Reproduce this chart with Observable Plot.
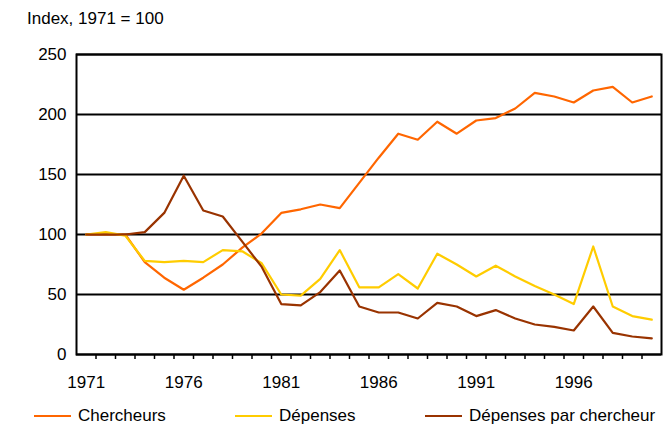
<!DOCTYPE html>
<html>
<head>
<meta charset="utf-8">
<script src="https://cdn.jsdelivr.net/npm/d3@7"></script>
<script src="https://cdn.jsdelivr.net/npm/@observablehq/plot@0.6"></script>
<style>
  html, body { margin: 0; padding: 0; background: #fff; }
  #wrap { position: relative; width: 663px; height: 426px; font-family: "Liberation Sans", Arial, sans-serif; color: #000; overflow: hidden; }
  #title { position: absolute; left: 27px; top: 9px; font-size: 17px; white-space: nowrap; }
  #chart { position: absolute; left: 0; top: 36px; }
  #ylabel { position: absolute; left: 16px; top: 200px; font-size: 17px; white-space: nowrap; transform: translate(-50%, -50%) rotate(-90deg); }
  .leg { position: absolute; top: 406px; font-size: 17px; white-space: nowrap; display: flex; align-items: center; }
  .leg span.sw { display: inline-block; width: 37px; height: 2.5px; margin-right: 7px; }
</style>
</head>
<body>
<div id="wrap">
  <div id="title">Index, 1971 = 100</div>
  <div id="ylabel">pourcentage</div>
  <div id="chart"></div>
  <div id="legend"></div>
</div>
<script>
const years = [1971,1972,1973,1974,1975,1976,1977,1978,1979,1980,1981,1982,1983,1984,1985,1986,1987,1988,1989,1990,1991,1992,1993,1994,1995,1996,1997,1998,1999,2000];
const chercheurs = [100,100,100,77,64,54,64,75,89,101,118,121,125,122,143,164,184,179,194,184,195,197,205,218,215,210,220,223,210,215];
const depenses = [100,102,99,78,77,78,77,87,86,76,50,49,63,87,56,56,67,55,84,75,65,74,65,57,50,42,90,40,32,29];
const depensesParChercheur = [100,100,100,102,118,149,120,115,94,73,42,41,52,70,40,35,35,30,43,40,32,37,30,25,23,20,40,18,15,13.5];
const seriesNames = ["Chercheurs", "Dépenses", "Dépenses par chercheur"];
const seriesColors = ["#ff6600", "#ffcc00", "#993300"];
const yTicks = [0, 50, 100, 150, 200, 250];
const labelYears = [1971, 1976, 1981, 1986, 1991, 1996];

const seriesValues = [chercheurs, depenses, depensesParChercheur];
const tables = seriesValues.map((vals, i) => years.map((y, j) => ({year: y, value: vals[j], series: seriesNames[i]})));
const boundaries = years.slice(0, -1).map(y => y + 0.5);

const chart = Plot.plot({
  width: 663,
  height: 364,
  marginLeft: 76,
  marginRight: 2,
  marginTop: 18,
  marginBottom: 46,
  style: { fontFamily: "'Liberation Sans', Arial, sans-serif", fontSize: "17px", color: "#000", background: "#fff", overflow: "visible" },
  x: { type: "linear", domain: [years[0] - 0.5, years[years.length - 1] + 0.5] },
  y: { domain: [0, 250] },
  color: { domain: seriesNames, range: seriesColors },
  marks: [
    Plot.gridY(yTicks, { stroke: "#000", strokeOpacity: 1, strokeWidth: 2 }),
    Plot.frame({ stroke: "#000", strokeWidth: 2 }),
    Plot.axisY(yTicks, { tickSize: 0, tickPadding: 10, label: null, fontSize: 17 }),
    Plot.axisX(boundaries, { tickSize: 5, tickFormat: () => "", label: null, strokeWidth: 1.5 }),
    Plot.axisX(labelYears, { tickSize: 0, tickPadding: 21, label: null, fontSize: 17, tickFormat: d => String(d) }),
    ...tables.map(t => Plot.line(t, { x: "year", y: "value", stroke: "series", strokeWidth: 2.2 }))
  ]
});
document.getElementById("chart").appendChild(chart);

const legendPos = [34, 235, 425];
const legend = document.getElementById("legend");
seriesNames.forEach((name, i) => {
  const d = document.createElement("div");
  d.className = "leg";
  d.style.left = legendPos[i] + "px";
  const sw = document.createElement("span");
  sw.className = "sw";
  sw.style.background = seriesColors[i];
  const t = document.createElement("span");
  t.textContent = name;
  d.appendChild(sw);
  d.appendChild(t);
  legend.appendChild(d);
});
</script>
</body>
</html>
